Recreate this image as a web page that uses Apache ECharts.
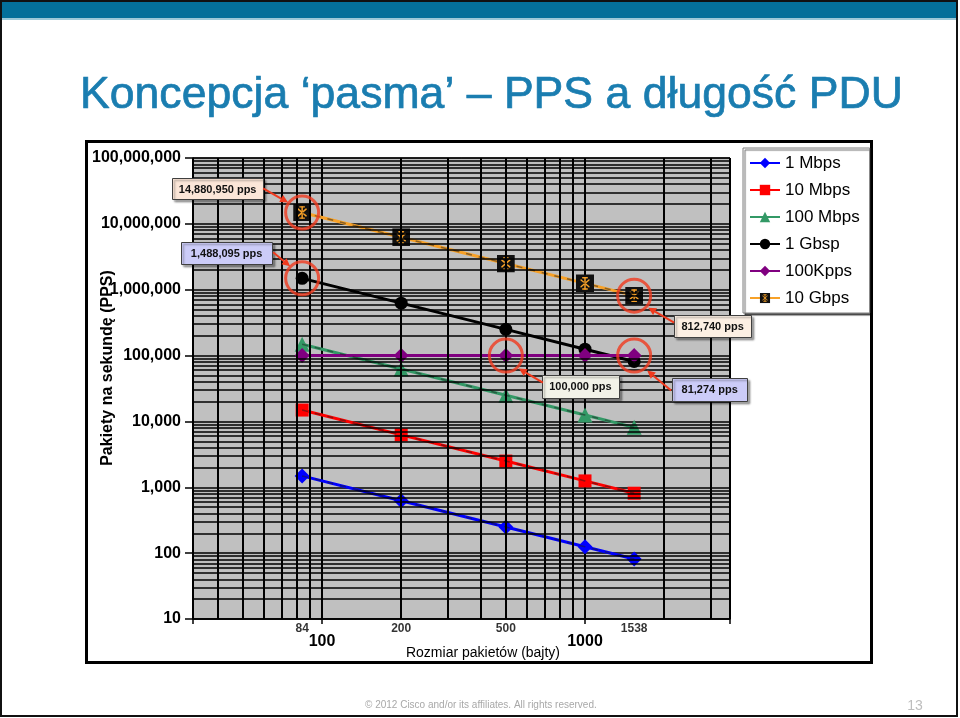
<!DOCTYPE html>
<html><head><meta charset="utf-8">
<script src="https://cdn.jsdelivr.net/npm/echarts@6/dist/echarts.min.js"></script>
<style>html,body{margin:0;padding:0;background:#fff}#c{width:960px;height:718px}</style>
</head><body><div id="c"></div>
<script>
// ---------- data ----------
const packetSizes = [84, 200, 500, 1000, 1538];
const seriesNames = ['1 Mbps', '10 Mbps', '100 Mbps', '1 Gbsp', '100Kpps', '10 Gbps'];
const pps1Mbps   = [1488, 625, 250, 125, 81.3];
const pps10Mbps  = [14881, 6250, 2500, 1250, 812.7];
const pps100Mbps = [148810, 62500, 25000, 12500, 8127];
const pps1Gbps   = [1488095, 625000, 250000, 125000, 81274];
const pps100Kpps = [100000, 100000, 100000, 100000, 100000];
const pps10Gbps  = [14880950, 6250000, 2500000, 1250000, 812740];
const sizeTickLabels = [84, 200, 500, 1538];
const yDecades = [10, 100, 1000, 10000, 100000, 1000000, 10000000];
const minorMultipliers = [2, 3, 4, 5, 6, 7, 8, 9];
const xMinorGrid = [40, 50, 60, 70, 80, 90, 200, 300, 400, 500, 600, 700, 800, 900, 2000, 3000];
const calloutTexts  = ['14,880,950 pps', '1,488,095 pps', '812,740 pps', '100,000 pps', '81,274 pps'];
const calloutPoints = [[84, 14880950], [84, 1488095], [1538, 812740], [500, 100000], [1538, 100000]];
const yTitle = 'Pakiety na sekundę (PPS)';
const xTitle = 'Rozmiar pakietów (bajty)';

// ---------- styles ----------
const FONT = '"Liberation Sans", Arial, sans-serif';
const colors = ['#0000ff', '#ff0000', '#339966', '#000000', '#800080', '#f7a128'];
const symbols = ['diamond', 'rect', 'triangle', 'circle', 'diamond', 'img'];
const symSizes = [15, 13, 15, 13, 15, 18];
const starSvg = "<svg xmlns='http://www.w3.org/2000/svg' width='32' height='32'><rect width='32' height='32' fill='#111'/>" +
  "<g stroke='#f7a128' stroke-width='2.6' stroke-linecap='round'><line x1='16' y1='6' x2='16' y2='26'/>" +
  "<line x1='9' y1='10' x2='23' y2='22'/><line x1='23' y1='10' x2='9' y2='22'/>" +
  "<line x1='12' y1='6' x2='20' y2='6'/><line x1='12' y1='26' x2='20' y2='26'/></g></svg>";
const starSymbol = 'image://data:image/svg+xml;charset=utf-8,' + encodeURIComponent(starSvg);
// callout box layout: [dx, dy, w, h] relative to circled point; arrow from/to relative
const calloutBoxes = [[-130, -34, 91, 21], [-121, -36, 91, 22], [40, 19, 77, 22], [36, 19, 77, 23], [38, 22, 75, 23]];
const calloutArrows = [[-39, -24, -14, -10], [-29, -26, -12, -12], [40, 27, 14, 12], [37, 27, 13, 13], [37, 35, 13, 15]];
const calloutFills = ['#fbe6d8', '#ccccf8', '#fcefe3', '#f2f2e8', '#ccccf8'];

const allValues = [pps1Mbps, pps10Mbps, pps100Mbps, pps1Gbps, pps100Kpps, pps10Gbps];
const yMinorGrid = [];
yDecades.forEach(d => minorMultipliers.forEach(m => yMinorGrid.push(m * d)));

const series = [];
// grid lines (minor) drawn through axis scales
series.push({
  type: 'line', data: [], z: 1, silent: true,
  markLine: {
    silent: true, symbol: ['none', 'none'], label: {show: false}, animation: false,
    lineStyle: {color: '#000', type: 'solid', width: 1.5, opacity: 1},
    data: yMinorGrid.map(v => ({yAxis: v})).concat(
      xMinorGrid.map(v => ({xAxis: v, lineStyle: {color: '#000', width: 2, type: 'solid'}})))
  }
});
allValues.forEach((vals, i) => {
  series.push({
    name: seriesNames[i], type: 'line', z: 3,
    data: packetSizes.map((x, j) => [x, vals[j]]),
    symbol: symbols[i] === 'img' ? starSymbol : symbols[i],
    symbolSize: symSizes[i],
    itemStyle: {color: colors[i], borderWidth: 0},
    lineStyle: {color: colors[i], width: 3},
    emphasis: {disabled: true}
  });
  if (i !== 3 && i !== 4) {
    series.push({
      type: 'line', z: 4, silent: true, symbol: 'none',
      data: packetSizes.map((x, j) => [x, vals[j]]),
      lineStyle: {color: 'rgba(30,30,30,0.5)', width: 1.5, type: [6, 7]}
    });
  }
});
// red annotation circles
series.push({
  type: 'scatter', z: 6, silent: true,
  data: calloutPoints,
  symbol: 'circle', symbolSize: 33,
  itemStyle: {color: 'rgba(0,0,0,0)', borderColor: '#f03a1e', borderWidth: 3}
});
// packet size labels under the axis
series.push({
  type: 'scatter', z: 6, silent: true,
  data: sizeTickLabels.map(x => [x, 10]),
  symbolSize: 0,
  label: {show: true, position: 'bottom', distance: 4, formatter: p => String(p.value[0]),
    fontFamily: FONT, fontWeight: 'bold', fontSize: 12, color: '#000'}
});

const option = {
  animation: false,
  backgroundColor: '#fff',
  grid: {left: 193, top: 158, width: 537, height: 461, show: true, backgroundColor: '#c0c0c0',
    borderColor: '#000', borderWidth: 1, containLabel: false},
  legend: {
    data: seriesNames, orient: 'vertical', left: 743, top: 148,
    itemWidth: 30, itemHeight: 13, itemGap: 7, itemTextGap: 4,
    padding: [5, 10, 5, 6],
    backgroundColor: '#fff', borderColor: '#7f7f7f', borderWidth: 1,
    shadowColor: 'rgba(0,0,0,0.6)', shadowOffsetX: 2, shadowOffsetY: 2, shadowBlur: 1,
    textStyle: {fontFamily: FONT, fontSize: 17, color: '#000', lineHeight: 20}
  },
  xAxis: {
    type: 'log', logBase: 10, min: 32.3, max: 3560,
    name: xTitle, nameLocation: 'middle', nameGap: 27, nameMoveOverlap: false,
    nameTextStyle: {fontFamily: FONT, fontSize: 14, color: '#000', padding: [0, 0, 0, 43]},
    axisLine: {show: true, lineStyle: {color: '#000', width: 1.5}},
    axisTick: {show: true, length: 5, lineStyle: {color: '#000', width: 1.5}},
    axisLabel: {fontFamily: FONT, fontWeight: 'bold', fontSize: 16, color: '#000', margin: 15,
      formatter: v => { const l = Math.log10(v); return Math.abs(l - Math.round(l)) < 1e-3 ? String(Math.round(v)) : ''; }},
    splitLine: {show: true, lineStyle: {color: '#000', width: 2}}
  },
  yAxis: {
    type: 'log', logBase: 10, min: 10, max: 100000000, splitNumber: 7,
    axisLine: {show: true, lineStyle: {color: '#000', width: 1.5}},
    axisTick: {show: true, length: 8, lineStyle: {color: '#000', width: 1.5}},
    axisLabel: {fontFamily: FONT, fontWeight: 'bold', fontSize: 16, color: '#000', margin: 12,
      formatter: v => Math.round(v).toLocaleString('en-US')},
    splitLine: {show: true, lineStyle: {color: '#000', width: 1.5}}
  },
  series: series
};

const chart = echarts.init(document.getElementById('c'), null, {renderer: 'canvas'});
chart.setOption(option);

// ---------- slide decorations and callouts ----------
const g = [];
g.push({type: 'rect', z: 0, silent: true, shape: {x: 1, y: 1, width: 956, height: 17}, style: {fill: '#04709a'}});
g.push({type: 'rect', z: 0, silent: true, shape: {x: 1, y: 18, width: 956, height: 2}, style: {fill: '#9cc9d8'}});
g.push({type: 'rect', z: 0, silent: true, shape: {x: 1, y: 1, width: 956, height: 715}, style: {fill: 'none', stroke: '#111', lineWidth: 2}});
g.push({type: 'text', z: 0, silent: true, style: {text: 'Koncepcja ‘pasma’ – PPS a długość PDU', x: 80, y: 96,
  textAlign: 'left', textVerticalAlign: 'middle', font: '44.6px ' + FONT, fill: '#1a7db0', stroke: '#1a7db0', lineWidth: 0.7}});
g.push({type: 'rect', z: 0, silent: true, shape: {x: 86.5, y: 141.5, width: 785, height: 521}, style: {fill: 'none', stroke: '#000', lineWidth: 3}});
g.push({type: 'text', z: 5, silent: true, x: 108, y: 368, rotation: Math.PI / 2,
  style: {text: yTitle, x: 0, y: 0, textAlign: 'center', textVerticalAlign: 'middle', font: 'bold 16px ' + FONT, fill: '#000'}});
g.push({type: 'text', z: 0, silent: true, style: {text: '© 2012 Cisco and/or its affiliates. All rights reserved.', x: 365, y: 705,
  textAlign: 'left', textVerticalAlign: 'middle', font: '10px ' + FONT, fill: '#a8a8a8'}});
g.push({type: 'text', z: 0, silent: true, style: {text: '13', x: 915, y: 706,
  textAlign: 'center', textVerticalAlign: 'middle', font: '14px ' + FONT, fill: '#bdbdbd'}});

calloutPoints.forEach((pt, i) => {
  const p = chart.convertToPixel({gridIndex: 0}, pt);
  const b = calloutBoxes[i], a = calloutArrows[i];
  g.push({type: 'rect', z: 50, silent: true,
    shape: {x: Math.round(p[0] + b[0]) + 0.5, y: Math.round(p[1] + b[1]) + 0.5, width: b[2], height: b[3]},
    style: {fill: calloutFills[i], stroke: '#404040', lineWidth: 1, shadowColor: 'rgba(0,0,0,0.35)', shadowOffsetX: 2, shadowOffsetY: 2, shadowBlur: 2}});
  g.push({type: 'text', z: 51, silent: true, style: {text: calloutTexts[i], x: p[0] + b[0] + b[2] / 2, y: p[1] + b[1] + b[3] / 2 + 1,
    textAlign: 'center', textVerticalAlign: 'middle', font: 'bold 11px ' + FONT, fill: '#111'}});
  const x1 = p[0] + a[0], y1 = p[1] + a[1], x2 = p[0] + a[2], y2 = p[1] + a[3];
  const dx = x2 - x1, dy = y2 - y1, L = Math.sqrt(dx * dx + dy * dy), ux = dx / L, uy = dy / L;
  const hl = 8, hw = 4;
  const bx = x2 - ux * hl, by = y2 - uy * hl;
  g.push({type: 'line', z: 50, silent: true, shape: {x1: x1, y1: y1, x2: bx, y2: by}, style: {stroke: '#f03a1e', lineWidth: 2}});
  g.push({type: 'polygon', z: 50, silent: true, shape: {points: [[x2, y2], [bx - uy * hw, by + ux * hw], [bx + uy * hw, by - ux * hw]]},
    style: {fill: '#f03a1e'}});
});
chart.setOption({graphic: g});
</script></body></html>
